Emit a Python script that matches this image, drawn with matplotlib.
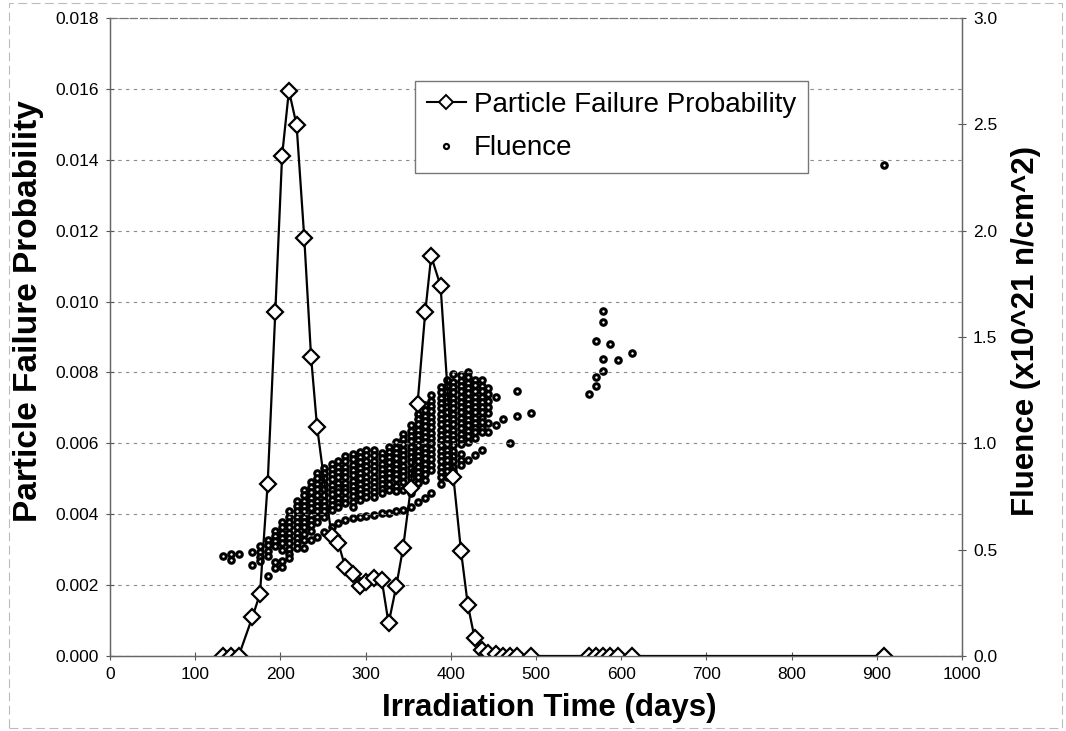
import matplotlib.pyplot as plt
from matplotlib.ticker import FormatStrFormatter
from matplotlib.lines import Line2D
from matplotlib.patches import Rectangle

plt.rcParams['font.family'] = ['Liberation Sans', 'DejaVu Sans']

# irradiation days and particle failure probability
days = [133, 142, 151, 167, 176, 185, 194, 202, 210, 219, 228, 236, 243,
        260, 268, 276, 285, 293, 301, 310, 319, 327, 336, 344, 353, 361,
        370, 377, 388, 403, 412, 420, 428, 437, 444, 453, 461, 469, 478,
        494, 562, 570, 579, 587, 596, 613, 909]
failure_prob = [0.0, 0.0, 0.0, 0.00109, 0.00175, 0.00484, 0.0097, 0.01412,
                0.01595, 0.01498, 0.0118, 0.00844, 0.00647, 0.00339, 0.00318,
                0.00252, 0.0023, 0.00198, 0.00209, 0.00219, 0.00214, 0.00092,
                0.00197, 0.00305, 0.00473, 0.00712, 0.0097, 0.01128, 0.01044,
                0.00506, 0.00296, 0.00144, 0.0005, 0.00017, 0.00009, 0.00005,
                0.00001, 0.0, 0.0, 0.0, 0.0, 0.0, 0.0, 0.0, 0.0, 0.0, 0.0]

# fluence (x10^21 n/cm^2) of every particle, grouped by day
fluence_days = [133, 142, 151, 167, 176, 185, 194, 202, 210, 219, 228, 236,
                243, 251, 260, 268, 276, 285, 293, 301, 310, 319, 327, 336,
                344, 353, 361, 370, 377, 388, 396, 403, 412, 420, 428, 437,
                444, 453, 461, 469, 478, 494, 562, 570, 579, 587, 596, 613,
                909]
fluence_cols = [
    [0.47],
    [0.48, 0.45],
    [0.48],
    [0.49, 0.43],
    [0.515, 0.49, 0.465, 0.445],
    [0.545, 0.52, 0.495, 0.47, 0.375],
    [0.59, 0.565, 0.54, 0.515, 0.44, 0.415],
    [0.63, 0.605, 0.58, 0.555, 0.53, 0.50, 0.445, 0.42],
    [0.68, 0.655, 0.63, 0.605, 0.58, 0.555, 0.53, 0.505, 0.48, 0.46],
    [0.73, 0.705, 0.68, 0.655, 0.63, 0.605, 0.58, 0.555, 0.53, 0.51],
    [0.78, 0.755, 0.73, 0.705, 0.68, 0.655, 0.63, 0.605, 0.575, 0.545, 0.508],
    [0.82, 0.795, 0.77, 0.745, 0.72, 0.695, 0.665, 0.64, 0.615, 0.59, 0.545],
    [0.86, 0.835, 0.81, 0.785, 0.755, 0.73, 0.705, 0.68, 0.655, 0.63, 0.561],
    [0.885, 0.86, 0.835, 0.81, 0.785, 0.755, 0.73, 0.705, 0.68, 0.655, 0.584],
    [0.905, 0.88, 0.855, 0.83, 0.805, 0.78, 0.76, 0.735, 0.71, 0.685, 0.608],
    [0.915, 0.89, 0.865, 0.84, 0.815, 0.79, 0.77, 0.745, 0.72, 0.70, 0.627],
    [0.94, 0.915, 0.89, 0.865, 0.84, 0.815, 0.79, 0.77, 0.745, 0.72, 0.64],
    [0.95, 0.925, 0.90, 0.875, 0.85, 0.825, 0.80, 0.775, 0.75, 0.725, 0.70,
     0.647],
    [0.96, 0.935, 0.91, 0.885, 0.86, 0.835, 0.81, 0.785, 0.76, 0.735, 0.652],
    [0.968, 0.943, 0.918, 0.893, 0.868, 0.843, 0.818, 0.795, 0.77, 0.749,
     0.658],
    [0.968, 0.943, 0.918, 0.893, 0.868, 0.843, 0.818, 0.795, 0.77, 0.749,
     0.663],
    [0.955, 0.93, 0.905, 0.88, 0.855, 0.83, 0.81, 0.785, 0.765, 0.671],
    [0.985, 0.96, 0.935, 0.91, 0.885, 0.86, 0.835, 0.81, 0.78, 0.674],
    [1.005, 0.98, 0.955, 0.93, 0.905, 0.88, 0.855, 0.83, 0.80, 0.775, 0.68],
    [1.045, 1.02, 0.995, 0.97, 0.945, 0.92, 0.895, 0.87, 0.845, 0.82, 0.78,
     0.686],
    [1.085, 1.06, 1.035, 1.01, 0.985, 0.96, 0.935, 0.91, 0.885, 0.86, 0.835,
     0.80, 0.765, 0.70],
    [1.14, 1.115, 1.09, 1.065, 1.04, 1.015, 0.99, 0.965, 0.94, 0.915, 0.89,
     0.865, 0.84, 0.812, 0.725],
    [1.18, 1.155, 1.13, 1.105, 1.08, 1.055, 1.03, 1.005, 0.98, 0.955, 0.93,
     0.905, 0.88, 0.855, 0.827, 0.745],
    [1.227, 1.2, 1.175, 1.15, 1.125, 1.1, 1.075, 1.05, 1.025, 1.0, 0.975,
     0.95, 0.925, 0.9, 0.874, 0.768],
    [1.266, 1.24, 1.215, 1.19, 1.165, 1.14, 1.115, 1.09, 1.065, 1.04, 1.015,
     0.99, 0.965, 0.94, 0.915, 0.89, 0.865, 0.843, 0.807],
    [1.298, 1.27, 1.245, 1.22, 1.195, 1.17, 1.145, 1.12, 1.095, 1.07, 1.045,
     1.02, 0.995, 0.97, 0.945, 0.92, 0.895, 0.87, 0.843],
    [1.326, 1.29, 1.265, 1.24, 1.215, 1.19, 1.165, 1.14, 1.115, 1.09, 1.065,
     1.04, 1.015, 0.99, 0.965, 0.94, 0.915, 0.89, 0.87],
    [1.321, 1.295, 1.27, 1.245, 1.22, 1.195, 1.17, 1.145, 1.12, 1.095, 1.07,
     1.045, 1.02, 0.995, 0.95, 0.92, 0.898],
    [1.337, 1.31, 1.285, 1.26, 1.235, 1.21, 1.185, 1.16, 1.135, 1.11, 1.085,
     1.06, 1.035, 1.007, 0.921],
    [1.298, 1.272, 1.246, 1.22, 1.195, 1.17, 1.145, 1.12, 1.095, 1.07, 1.054,
     1.023, 0.945],
    [1.298, 1.27, 1.245, 1.22, 1.195, 1.17, 1.145, 1.12, 1.1, 1.07, 1.054,
     0.968],
    [1.258, 1.23, 1.2, 1.17, 1.141, 1.094, 1.054],
    [1.216, 1.086],
    [1.113],
    [1.003],
    [1.247, 1.128],
    [1.141],
    [1.23],
    [1.483, 1.311, 1.269],
    [1.623, 1.572, 1.396, 1.341],
    [1.467],
    [1.391],
    [1.427],
    [2.31],
]

fig = plt.figure(figsize=(10.66, 7.31), dpi=100)
ax = fig.add_axes([0.1032, 0.1026, 0.7992, 0.8728])
ax2 = ax.twinx()

# fluence cloud on the secondary axis
fx, fy = [], []
for d, col in zip(fluence_days, fluence_cols):
    for v in col:
        fx.append(d)
        fy.append(v)
ax2.plot(fx, fy, ls='none', marker='o', ms=4.0, mfc='white', mec='black',
         mew=2.2)

# failure probability line drawn above the fluence points
ax.set_zorder(ax2.get_zorder() + 1)
ax.patch.set_visible(False)
ax.plot(days, failure_prob, color='black', lw=1.6, marker='D', ms=8,
        mfc='white', mec='black', mew=1.6)

ax.set_xlim(0, 1000)
ax.set_ylim(0, 0.018)
ax2.set_ylim(0, 3.0)
ax.set_xticks(range(0, 1001, 100))
ax.set_yticks([i * 0.002 for i in range(10)])
ax2.set_yticks([0, 0.5, 1.0, 1.5, 2.0, 2.5, 3.0])
ax.yaxis.set_major_formatter(FormatStrFormatter('%.3f'))
ax2.yaxis.set_major_formatter(FormatStrFormatter('%.1f'))

ax.grid(axis='y', color='#8a8a8a', ls=(0, (3, 4)), lw=0.8)
ax.tick_params(axis='both', labelsize=12.5, direction='inout', length=6,
               width=0.8, color='#555555', pad=5)
ax2.tick_params(axis='y', labelsize=12.5, direction='inout', length=6,
                width=0.8, color='#555555', pad=5)

for a in (ax, ax2):
    for side in ('left', 'right', 'bottom'):
        a.spines[side].set_color('#666666')
        a.spines[side].set_linewidth(0.9)
    a.spines['top'].set_color('#777777')
    a.spines['top'].set_linestyle((0, (6, 3)))
    a.spines['top'].set_linewidth(0.8)

ax.set_xlabel('Irradiation Time (days)', fontsize=22.5, fontweight='bold')
ax.set_ylabel('Particle Failure Probability', fontsize=24, fontweight='bold')
ax2.set_ylabel('Fluence (x10^21 n/cm^2)', fontsize=22.5, fontweight='bold')
ax.xaxis.set_label_coords(0.516, -0.058)
ax.yaxis.set_label_coords(-0.077, 0.54)
ax2.yaxis.set_label_coords(1.058, 0.51)

handles = [
    Line2D([], [], color='black', lw=1.5, marker='D', ms=7, mfc='white',
           mec='black', mew=1.4),
    Line2D([], [], ls='none', marker='o', ms=3.6, mfc='white', mec='black',
           mew=1.6),
]
ax.legend(handles, ['Particle Failure Probability', 'Fluence'],
          loc='upper left', bbox_to_anchor=(0.358, 0.902), fontsize=20,
          frameon=True, fancybox=False, edgecolor='#777777', framealpha=1,
          handlelength=1.4, handletextpad=0.3, borderpad=0.42,
          labelspacing=0.62, borderaxespad=0)

# outer chart border
fig.patches.append(Rectangle((0.008, 0.004), 0.988, 0.992,
                             transform=fig.transFigure, fill=False,
                             ec='#bbbbbb', lw=0.8, ls=(0, (8, 4))))

fig.savefig('out.png', dpi=100)
